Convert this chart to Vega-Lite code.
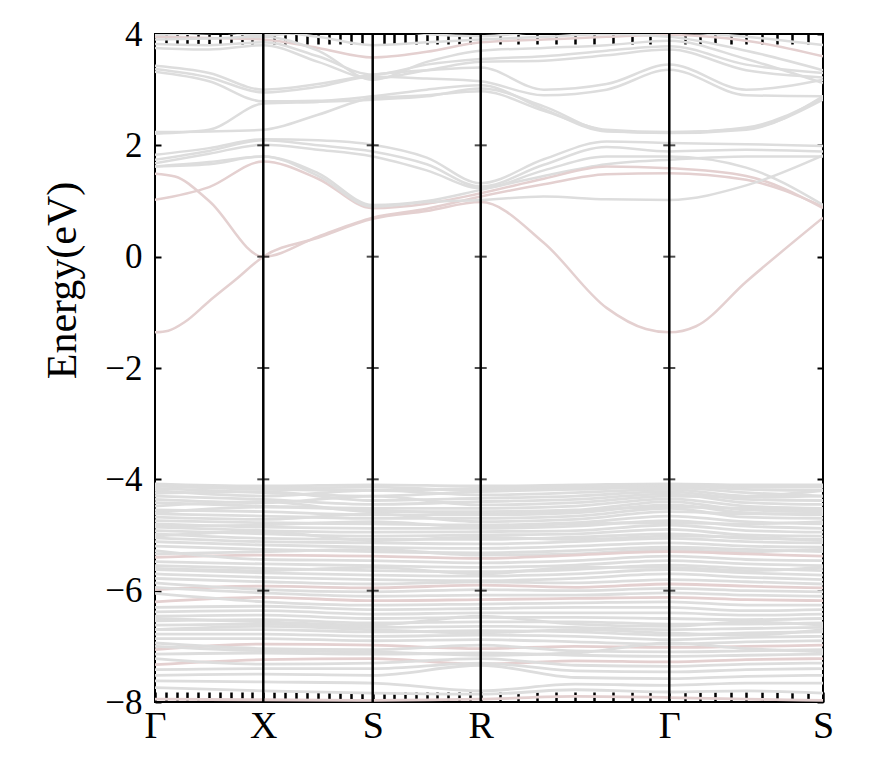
{
  "$schema": "https://vega.github.io/schema/vega-lite/v6.json",
  "width": 668,
  "height": 668,
  "autosize": {"type": "none"},
  "padding": {"left": 155, "top": 34, "right": 49, "bottom": 80},
  "background": "white",
  "config": {
    "view": {"stroke": "black", "strokeWidth": 2},
    "font": "Liberation Serif",
    "axis": {"labelFont": "Liberation Serif", "titleFont": "Liberation Serif", "labelColor": "black", "titleColor": "black", "tickColor": "black", "grid": false, "domain": false, "labelFlush": false, "labelOverlap": false, "labelBound": false}
  },
  "datasets": {
    "kp": [
      {"pt": "G1", "k": 0}, {"pt": "r1", "k": 0.02}, {"pt": "q1", "k": 0.03}, {"pt": "r2", "k": 0.045}, {"pt": "m1", "k": 0.081}, {"pt": "r3", "k": 0.12}, {"pt": "X", "k": 0.1621}, {"pt": "m2", "k": 0.244},
      {"pt": "S1", "k": 0.3259}, {"pt": "m3", "k": 0.4068}, {"pt": "R", "k": 0.4876}, {"pt": "m4", "k": 0.582},
      {"pt": "m7", "k": 0.629}, {"pt": "m5", "k": 0.676}, {"pt": "q2", "k": 0.735}, {"pt": "G2", "k": 0.7699}, {"pt": "q3", "k": 0.81}, {"pt": "m6", "k": 0.885}, {"pt": "S2", "k": 1.0}
    ],
    "sym": [{"k": 0.1621}, {"k": 0.3259}, {"k": 0.4876}, {"k": 0.7699}],
    "cross": [
      {"k": 0.1621, "e": -6}, {"k": 0.1621, "e": -4}, {"k": 0.1621, "e": -2}, {"k": 0.1621, "e": 0}, {"k": 0.1621, "e": 2},
      {"k": 0.3259, "e": -6}, {"k": 0.3259, "e": -4}, {"k": 0.3259, "e": -2}, {"k": 0.3259, "e": 0}, {"k": 0.3259, "e": 2},
      {"k": 0.4876, "e": -6}, {"k": 0.4876, "e": -4}, {"k": 0.4876, "e": -2}, {"k": 0.4876, "e": 0}, {"k": 0.4876, "e": 2},
      {"k": 0.7699, "e": -6}, {"k": 0.7699, "e": -4}, {"k": 0.7699, "e": -2}, {"k": 0.7699, "e": 0}, {"k": 0.7699, "e": 2}
    ],
    "cond": [
      {"b": "c1", "p": "pink", "G1": -1.36, "r1": -1.33, "r2": -1.17, "m1": -0.80, "r3": -0.42, "X": 0.0, "m2": 0.34, "S1": 0.68, "m3": 0.82, "R": 0.98, "m4": 0.25, "m5": -0.92, "q2": -1.30, "G2": -1.36, "q3": -1.25, "m6": -0.45, "S2": 0.70},
      {"b": "m6", "p": "pink", "G1": 1.49, "q1": 1.44, "m1": 1.00, "X": 0.0, "m2": 0.36, "S1": 0.70, "m3": 0.86, "R": 1.08, "m4": 1.30, "m5": 1.48, "G2": 1.50, "m6": 1.38, "S2": 0.90},
      {"b": "m1", "p": "grey", "G1": 1.83, "m1": 1.95, "X": 2.11, "m2": 2.09, "S1": 2.01, "m3": 1.78, "R": 1.32, "m4": 1.75, "m5": 2.07, "G2": 2.04, "m6": 2.02, "S2": 1.99},
      {"b": "m2", "p": "grey", "G1": 1.74, "m1": 1.90, "X": 2.09, "m2": 2.00, "S1": 1.89, "m3": 1.66, "R": 1.26, "m4": 1.65, "m5": 1.97, "G2": 1.89, "m6": 1.92, "S2": 1.89},
      {"b": "m3", "p": "grey", "G1": 1.68, "m1": 1.85, "X": 2.01, "m2": 1.92, "S1": 1.80, "m3": 1.55, "R": 1.23, "m4": 1.55, "m5": 1.80, "G2": 1.80, "m6": 1.60, "S2": 0.93},
      {"b": "m4", "p": "grey", "G1": 1.62, "m1": 1.70, "X": 1.80, "m2": 1.50, "S1": 0.93, "m3": 1.00, "R": 1.20, "m4": 1.45, "m5": 1.66, "G2": 1.74, "m6": 1.80, "S2": 1.80},
      {"b": "m5", "p": "pink", "G1": 1.02, "m1": 1.25, "X": 1.71, "m2": 1.40, "S1": 0.87, "m3": 0.95, "R": 1.14, "m4": 1.40, "m5": 1.62, "G2": 1.59, "m6": 1.45, "S2": 0.87},
      {"b": "m7", "p": "grey", "G1": 1.62, "m1": 1.66, "X": 1.80, "m2": 1.45, "S1": 0.90, "m3": 0.98, "R": 1.02, "m4": 1.08, "m5": 1.03, "G2": 1.02, "m6": 1.28, "S2": 1.82},
      {"b": "u1", "p": "grey", "G1": 2.24, "m1": 2.25, "X": 2.28, "m2": 2.55, "S1": 2.85, "m3": 2.90, "R": 2.97, "m4": 2.62, "m5": 2.28, "G2": 2.24, "m6": 2.30, "S2": 2.82},
      {"b": "u2", "p": "grey", "G1": 2.21, "m1": 2.28, "X": 2.75, "m2": 2.78, "S1": 2.82, "m3": 2.88, "R": 3.02, "m4": 2.70, "m5": 2.26, "G2": 2.22, "m6": 2.28, "S2": 2.88},
      {"b": "u3", "p": "grey", "G1": 3.43, "m1": 3.30, "X": 3.00, "m2": 3.10, "S1": 3.27, "m3": 3.35, "R": 3.40, "m4": 3.00, "m5": 3.10, "G2": 3.45, "m6": 3.00, "S2": 3.18},
      {"b": "u4", "p": "grey", "G1": 3.37, "m1": 3.22, "X": 2.95, "m2": 3.05, "S1": 3.23, "m3": 3.20, "R": 3.15, "m4": 2.90, "m5": 3.00, "G2": 3.36, "m6": 2.90, "S2": 2.88},
      {"b": "u5", "p": "grey", "G1": 3.32, "m1": 3.15, "X": 2.79, "m2": 2.80, "S1": 2.88, "m3": 3.00, "R": 3.08, "m4": 2.65, "m5": 2.25, "G2": 2.23, "m6": 2.32, "S2": 2.85},
      {"b": "t1", "p": "pink", "G1": 3.95, "m1": 3.93, "X": 3.90, "m2": 3.75, "S1": 3.58, "m3": 3.68, "R": 3.85, "m4": 3.90, "m5": 3.95, "G2": 3.98, "m6": 3.88, "S2": 3.60},
      {"b": "t2", "p": "grey", "G1": 3.82, "m1": 3.80, "X": 3.85, "m2": 3.60, "S1": 3.27, "m3": 3.45, "R": 3.55, "m4": 3.60, "m5": 3.70, "G2": 3.78, "m6": 3.45, "S2": 3.30},
      {"b": "t3", "p": "grey", "G1": 3.75, "m1": 3.72, "X": 3.80, "m2": 3.50, "S1": 3.20, "m3": 3.35, "R": 3.50, "m4": 3.52, "m5": 3.62, "G2": 3.72, "m6": 3.35, "S2": 3.22},
      {"b": "t4", "p": "grey", "G1": 3.90, "m1": 3.92, "X": 3.95, "m2": 3.70, "S1": 3.18, "m3": 3.50, "R": 3.70, "m4": 3.75, "m5": 3.80, "G2": 3.88, "m6": 3.55, "S2": 3.12},
      {"b": "t5", "p": "grey", "G1": 3.98, "m1": 4.02, "X": 4.05, "m2": 3.95, "S1": 3.80, "m3": 3.85, "R": 3.90, "m4": 3.95, "m5": 4.00, "G2": 3.95, "m6": 3.70, "S2": 3.35},
      {"b": "t6", "p": "grey", "G1": 4.10, "m1": 4.05, "X": 3.98, "m2": 4.05, "S1": 4.10, "m3": 4.00, "R": 3.96, "m4": 4.05, "m5": 4.10, "G2": 4.05, "m6": 3.95, "S2": 3.80}
    ],
    "val": [
      {"b": "a1", "p": "grey", "G1": -4.08, "X": -4.12, "S1": -4.10, "R": -4.12, "m7": -4.10, "G2": -4.08, "m6": -4.10, "S2": -4.10},
      {"b": "a9", "p": "grey", "G1": -4.10, "X": -4.16, "S1": -4.14, "R": -4.20, "m7": -4.16, "G2": -4.10, "m6": -4.14, "S2": -4.14},
      {"b": "a2", "p": "grey", "G1": -4.12, "X": -4.18, "S1": -4.20, "R": -4.16, "m7": -4.14, "G2": -4.12, "m6": -4.18, "S2": -4.20},
      {"b": "a3", "p": "grey", "G1": -4.16, "X": -4.24, "S1": -4.30, "R": -4.22, "m7": -4.18, "G2": -4.15, "m6": -4.24, "S2": -4.30},
      {"b": "a4", "p": "grey", "G1": -4.20, "X": -4.30, "S1": -4.20, "R": -4.28, "m7": -4.24, "G2": -4.18, "m6": -4.30, "S2": -4.20},
      {"b": "a5", "p": "grey", "G1": -4.25, "X": -4.22, "S1": -4.38, "R": -4.34, "m7": -4.30, "G2": -4.22, "m6": -4.36, "S2": -4.38},
      {"b": "a6", "p": "grey", "G1": -4.30, "X": -4.36, "S1": -4.45, "R": -4.40, "m7": -4.36, "G2": -4.26, "m6": -4.42, "S2": -4.45},
      {"b": "a7", "p": "grey", "G1": -4.36, "X": -4.42, "S1": -4.30, "R": -4.46, "m7": -4.42, "G2": -4.30, "m6": -4.32, "S2": -4.30},
      {"b": "a8", "p": "grey", "G1": -4.42, "X": -4.48, "S1": -4.52, "R": -4.52, "m7": -4.48, "G2": -4.35, "m6": -4.48, "S2": -4.52},
      {"b": "b1", "p": "grey", "G1": -4.48, "X": -4.40, "S1": -4.58, "R": -4.58, "m7": -4.55, "G2": -4.40, "m6": -4.55, "S2": -4.58},
      {"b": "b11", "p": "grey", "G1": -4.60, "X": -4.50, "S1": -4.55, "R": -4.62, "m7": -4.56, "G2": -4.50, "m6": -4.52, "S2": -4.55},
      {"b": "b2", "p": "grey", "G1": -4.55, "X": -4.58, "S1": -4.64, "R": -4.64, "m7": -4.60, "G2": -4.46, "m6": -4.60, "S2": -4.64},
      {"b": "b3", "p": "grey", "G1": -4.62, "X": -4.66, "S1": -4.70, "R": -4.70, "m7": -4.66, "G2": -4.52, "m6": -4.68, "S2": -4.70},
      {"b": "b4", "p": "grey", "G1": -4.68, "X": -4.72, "S1": -4.62, "R": -4.76, "m7": -4.72, "G2": -4.58, "m6": -4.62, "S2": -4.62},
      {"b": "b5", "p": "grey", "G1": -4.74, "X": -4.78, "S1": -4.80, "R": -4.82, "m7": -4.78, "G2": -4.66, "m6": -4.76, "S2": -4.80},
      {"b": "b12", "p": "grey", "G1": -4.84, "X": -4.82, "S1": -4.76, "R": -4.86, "m7": -4.80, "G2": -4.78, "m6": -4.80, "S2": -4.76},
      {"b": "b6", "p": "grey", "G1": -4.80, "X": -4.86, "S1": -4.88, "R": -4.88, "m7": -4.84, "G2": -4.74, "m6": -4.84, "S2": -4.88},
      {"b": "b7", "p": "grey", "G1": -4.86, "X": -4.92, "S1": -4.95, "R": -4.94, "m7": -4.92, "G2": -4.82, "m6": -4.92, "S2": -4.95},
      {"b": "b8", "p": "grey", "G1": -4.92, "X": -4.98, "S1": -5.02, "R": -5.00, "m7": -4.98, "G2": -4.90, "m6": -5.00, "S2": -5.02},
      {"b": "b13", "p": "grey", "G1": -5.02, "X": -4.94, "S1": -5.10, "R": -5.04, "m7": -5.08, "G2": -5.02, "m6": -5.04, "S2": -5.10},
      {"b": "b9", "p": "grey", "G1": -4.98, "X": -5.06, "S1": -5.08, "R": -5.08, "m7": -5.04, "G2": -4.98, "m6": -5.06, "S2": -5.08},
      {"b": "b10", "p": "grey", "G1": -5.05, "X": -5.12, "S1": -5.14, "R": -5.16, "m7": -5.12, "G2": -5.06, "m6": -5.12, "S2": -5.14},
      {"b": "c1", "p": "grey", "G1": -5.12, "X": -5.18, "S1": -5.22, "R": -5.24, "m7": -5.20, "G2": -5.14, "m6": -5.20, "S2": -5.22},
      {"b": "c2", "p": "grey", "G1": -5.20, "X": -5.26, "S1": -5.30, "R": -5.32, "m7": -5.28, "G2": -5.22, "m6": -5.26, "S2": -5.30},
      {"b": "c11", "p": "grey", "G1": -5.34, "X": -5.30, "S1": -5.26, "R": -5.36, "m7": -5.34, "G2": -5.26, "m6": -5.30, "S2": -5.26},
      {"b": "c3", "p": "pink", "G1": -5.40, "X": -5.36, "S1": -5.38, "R": -5.42, "m7": -5.36, "G2": -5.30, "m6": -5.34, "S2": -5.38},
      {"b": "c4", "p": "grey", "G1": -5.28, "X": -5.44, "S1": -5.46, "R": -5.50, "m7": -5.46, "G2": -5.38, "m6": -5.44, "S2": -5.46},
      {"b": "c5", "p": "grey", "G1": -5.48, "X": -5.52, "S1": -5.55, "R": -5.58, "m7": -5.54, "G2": -5.46, "m6": -5.52, "S2": -5.55},
      {"b": "c6", "p": "grey", "G1": -5.55, "X": -5.60, "S1": -5.64, "R": -5.66, "m7": -5.62, "G2": -5.54, "m6": -5.60, "S2": -5.64},
      {"b": "c12", "p": "grey", "G1": -5.60, "X": -5.64, "S1": -5.58, "R": -5.70, "m7": -5.58, "G2": -5.58, "m6": -5.64, "S2": -5.58},
      {"b": "c7", "p": "grey", "G1": -5.62, "X": -5.68, "S1": -5.72, "R": -5.74, "m7": -5.70, "G2": -5.62, "m6": -5.68, "S2": -5.72},
      {"b": "c8", "p": "grey", "G1": -5.70, "X": -5.76, "S1": -5.80, "R": -5.82, "m7": -5.78, "G2": -5.70, "m6": -5.76, "S2": -5.80},
      {"b": "c9", "p": "grey", "G1": -5.78, "X": -5.84, "S1": -5.88, "R": -5.84, "m7": -5.86, "G2": -5.80, "m6": -5.84, "S2": -5.88},
      {"b": "c10", "p": "pink", "G1": -5.98, "X": -5.92, "S1": -5.95, "R": -5.90, "m7": -5.94, "G2": -5.88, "m6": -5.92, "S2": -5.95},
      {"b": "d1", "p": "grey", "G1": -5.86, "X": -5.98, "S1": -6.02, "R": -5.98, "m7": -6.00, "G2": -5.96, "m6": -6.00, "S2": -6.02},
      {"b": "d2", "p": "grey", "G1": -5.94, "X": -6.04, "S1": -6.10, "R": -6.08, "m7": -6.08, "G2": -6.04, "m6": -6.08, "S2": -6.10},
      {"b": "d3", "p": "pink", "G1": -6.20, "X": -6.12, "S1": -6.18, "R": -6.16, "m7": -6.14, "G2": -6.12, "m6": -6.16, "S2": -6.18},
      {"b": "d4", "p": "grey", "G1": -6.05, "X": -6.20, "S1": -6.26, "R": -6.24, "m7": -6.22, "G2": -6.20, "m6": -6.26, "S2": -6.26},
      {"b": "d5", "p": "grey", "G1": -6.30, "X": -6.28, "S1": -6.34, "R": -6.32, "m7": -6.30, "G2": -6.30, "m6": -6.36, "S2": -6.34},
      {"b": "d6", "p": "grey", "G1": -6.38, "X": -6.36, "S1": -6.42, "R": -6.40, "m7": -6.40, "G2": -6.40, "m6": -6.44, "S2": -6.42},
      {"b": "d7", "p": "grey", "G1": -6.46, "X": -6.44, "S1": -6.50, "R": -6.48, "m7": -6.48, "G2": -6.50, "m6": -6.52, "S2": -6.50},
      {"b": "d13", "p": "grey", "G1": -6.50, "X": -6.56, "S1": -6.62, "R": -6.46, "m7": -6.60, "G2": -6.64, "m6": -6.56, "S2": -6.62},
      {"b": "d8", "p": "grey", "G1": -6.54, "X": -6.52, "S1": -6.58, "R": -6.56, "m7": -6.56, "G2": -6.60, "m6": -6.60, "S2": -6.58},
      {"b": "d9", "p": "grey", "G1": -6.62, "X": -6.60, "S1": -6.66, "R": -6.64, "m7": -6.66, "G2": -6.70, "m6": -6.68, "S2": -6.66},
      {"b": "d14", "p": "grey", "G1": -6.70, "X": -6.64, "S1": -6.70, "R": -6.76, "m7": -6.70, "G2": -6.76, "m6": -6.80, "S2": -6.70},
      {"b": "d10", "p": "grey", "G1": -6.70, "X": -6.70, "S1": -6.74, "R": -6.72, "m7": -6.74, "G2": -6.80, "m6": -6.76, "S2": -6.74},
      {"b": "d11", "p": "grey", "G1": -6.78, "X": -6.78, "S1": -6.82, "R": -6.80, "m7": -6.82, "G2": -6.88, "m6": -6.84, "S2": -6.82},
      {"b": "d12", "p": "grey", "G1": -6.86, "X": -6.86, "S1": -6.90, "R": -6.88, "m7": -6.92, "G2": -6.96, "m6": -6.92, "S2": -6.90},
      {"b": "e1", "p": "pink", "G1": -7.06, "X": -6.96, "S1": -6.98, "R": -7.04, "m7": -7.00, "G2": -7.02, "m6": -7.00, "S2": -6.98},
      {"b": "e11", "p": "grey", "G1": -7.00, "X": -7.08, "S1": -7.10, "R": -7.16, "m7": -7.12, "G2": -6.94, "m6": -7.04, "S2": -7.10},
      {"b": "e2", "p": "grey", "G1": -6.94, "X": -7.04, "S1": -7.06, "R": -6.98, "m7": -7.08, "G2": -7.10, "m6": -7.08, "S2": -7.06},
      {"b": "e3", "p": "grey", "G1": -7.14, "X": -7.12, "S1": -7.14, "R": -7.12, "m7": -7.16, "G2": -7.18, "m6": -7.16, "S2": -7.14},
      {"b": "e4", "p": "pink", "G1": -7.33, "X": -7.24, "S1": -7.22, "R": -7.32, "m7": -7.26, "G2": -7.28, "m6": -7.24, "S2": -7.22},
      {"b": "e5", "p": "grey", "G1": -7.22, "X": -7.32, "S1": -7.30, "R": -7.22, "m7": -7.34, "G2": -7.36, "m6": -7.32, "S2": -7.30},
      {"b": "e6", "p": "grey", "G1": -7.42, "X": -7.40, "S1": -7.40, "R": -7.30, "m7": -7.44, "G2": -7.46, "m6": -7.42, "S2": -7.40},
      {"b": "e7", "p": "grey", "G1": -7.52, "X": -7.50, "S1": -7.52, "R": -7.34, "m7": -7.56, "G2": -7.58, "m6": -7.54, "S2": -7.52},
      {"b": "e8", "p": "grey", "G1": -7.62, "X": -7.64, "S1": -7.66, "R": -7.80, "m7": -7.68, "G2": -7.70, "m6": -7.66, "S2": -7.66},
      {"b": "e9", "p": "grey", "G1": -7.74, "X": -7.80, "S1": -7.84, "R": -7.86, "m7": -7.78, "G2": -7.82, "m6": -7.80, "S2": -7.84},
      {"b": "e10", "p": "pink", "G1": -7.95, "X": -7.96, "S1": -7.97, "R": -7.95, "m7": -7.90, "G2": -7.92, "m6": -7.95, "S2": -7.97}
    ]
  },
  "resolve": {"axis": {"x": "independent", "y": "independent"}},
  "layer": [
    {
      "data": {"name": "val"},
      "transform": [
        {"fold": ["G1", "X", "S1", "R", "m7", "G2", "m6", "S2"], "as": ["pt", "e"]},
        {"filter": "datum.e != null"},
        {"lookup": "pt", "from": {"data": {"name": "kp"}, "key": "pt", "fields": ["k"]}}
      ],
      "mark": {"type": "line", "interpolate": "monotone", "strokeWidth": 2.8, "clip": true},
      "encoding": {
        "x": {"field": "k", "type": "quantitative", "scale": {"domain": [0, 1], "nice": false, "zero": false},
          "axis": {"orient": "bottom", "title": null, "tickSize": -10, "tickWidth": 2.5, "labelPadding": 15, "labelFontSize": 38,
            "values": [0, 0.0162, 0.0324, 0.0486, 0.0648, 0.0811, 0.0973, 0.1135, 0.1297, 0.1459, 0.1621, 0.1785, 0.1949, 0.2113, 0.2276, 0.2440, 0.2604, 0.2768, 0.2932, 0.3095, 0.3259, 0.3421, 0.3582, 0.3744, 0.3906, 0.4068, 0.4229, 0.4391, 0.4553, 0.4714, 0.4876, 0.5158, 0.5441, 0.5723, 0.6005, 0.6288, 0.6570, 0.6852, 0.7134, 0.7417, 0.7699, 0.7929, 0.8159, 0.8389, 0.8619, 0.8850, 0.9080, 0.9310, 0.9540, 0.9770, 1],
            "labelExpr": "datum.value < 0.001 ? 'Γ' : abs(datum.value - 0.1621) < 0.001 ? 'X' : abs(datum.value - 0.3259) < 0.001 ? 'S' : abs(datum.value - 0.4876) < 0.001 ? 'R' : abs(datum.value - 0.7699) < 0.001 ? 'Γ' : datum.value > 0.999 ? 'S' : ''"}},
        "y": {"field": "e", "type": "quantitative", "scale": {"domain": [-8, 4], "nice": false, "zero": false},
          "axis": {"orient": "left", "values": [-8, -6, -4, -2, 0, 2, 4], "tickSize": -6, "tickWidth": 2, "labelPadding": 19, "labelFontSize": 35,
            "title": "Energy(eV)", "titleFontSize": 42, "titleFontWeight": "normal", "titlePadding": 20, "titleY": 246}},
        "detail": {"field": "b"},
        "color": {"field": "p", "type": "nominal", "scale": {"domain": ["grey", "pink"], "range": ["#dddddd", "#e4d0d0"]}, "legend": null}
      }
    },
    {
      "data": {"name": "cond"},
      "transform": [
        {"fold": ["G1", "r1", "q1", "r2", "m1", "r3", "X", "m2", "S1", "m3", "R", "m4", "m5", "q2", "G2", "q3", "m6", "S2"], "as": ["pt", "e"]},
        {"filter": "datum.e != null"},
        {"lookup": "pt", "from": {"data": {"name": "kp"}, "key": "pt", "fields": ["k"]}}
      ],
      "mark": {"type": "line", "interpolate": "monotone", "strokeWidth": 2.5, "clip": true},
      "encoding": {
        "x": {"field": "k", "type": "quantitative", "scale": {"domain": [0, 1], "nice": false, "zero": false},
          "axis": {"orient": "top", "title": null, "labels": false, "tickSize": -10, "tickWidth": 2.5,
            "values": [0.0162, 0.0324, 0.0486, 0.0648, 0.0811, 0.0973, 0.1135, 0.1297, 0.1459, 0.1785, 0.1949, 0.2113, 0.2276, 0.2440, 0.2604, 0.2768, 0.2932, 0.3095, 0.3421, 0.3582, 0.3744, 0.3906, 0.4068, 0.4229, 0.4391, 0.4553, 0.4714, 0.5158, 0.5441, 0.5723, 0.6005, 0.6288, 0.6570, 0.6852, 0.7134, 0.7417, 0.7929, 0.8159, 0.8389, 0.8619, 0.8850, 0.9080, 0.9310, 0.9540, 0.9770]}},
        "y": {"field": "e", "type": "quantitative", "scale": {"domain": [-8, 4], "nice": false, "zero": false},
          "axis": {"orient": "right", "title": null, "labels": false, "values": [-8, -6, -4, -2, 0, 2, 4], "tickSize": -6, "tickWidth": 2}},
        "detail": {"field": "b"},
        "color": {"field": "p", "type": "nominal", "scale": {"domain": ["grey", "pink"], "range": ["#dddddd", "#e4d0d0"]}, "legend": null}
      }
    },
    {
      "data": {"name": "sym"},
      "mark": {"type": "rule", "color": "black", "strokeWidth": 2.5},
      "encoding": {"x": {"field": "k", "type": "quantitative", "axis": null}}
    },
    {
      "data": {"name": "cross"},
      "mark": {"type": "tick", "orient": "horizontal", "color": "black", "size": 12, "thickness": 2},
      "encoding": {
        "x": {"field": "k", "type": "quantitative", "axis": null},
        "y": {"field": "e", "type": "quantitative", "axis": null}
      }
    },
    {
      "mark": {"type": "rule", "color": "black", "strokeWidth": 2.5, "strokeDash": [13, 4, 3, 4]},
      "encoding": {"y": {"datum": 0, "type": "quantitative", "axis": null}}
    }
  ]
}
